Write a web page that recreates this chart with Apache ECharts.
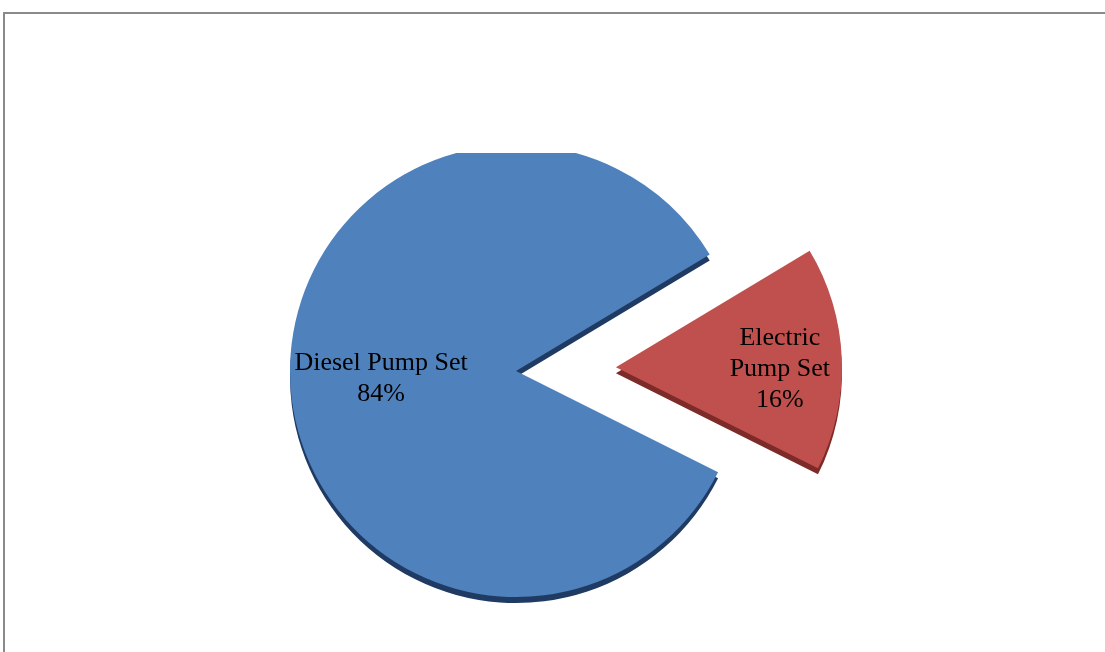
<!DOCTYPE html>
<html>
<head>
<meta charset="utf-8">
<script src="https://cdn.jsdelivr.net/npm/echarts@6/dist/echarts.min.js"></script>
<style>
  html, body { margin: 0; padding: 0; background: #ffffff; }
  #chart { width: 1105px; height: 652px; }
</style>
</head>
<body>
<div id="chart"></div>
<script>
// Share of pump sets by type
const categories = ['Electric Pump Set', 'Diesel Pump Set'];
const shares = [16, 84];
const labelLines = [['Electric', 'Pump Set'], ['Diesel Pump Set']];

const faceColors = ['#c0504d', '#4f81bd'];
const sideColors = ['#7d2b29', '#1f3b63'];

const center = [516, 371];
const radius = 226;
const depth = 6;

function labelStyle(i) {
  // the exploded slice carries its label further out along the radius
  return i === 0
    ? { padding: [0, 0, 0, 96] }
    : { offset: [-19, 3] };
}

function buildData(colors, withLabels) {
  return categories.map((name, i) => ({
    name: name,
    value: shares[i],
    selected: i === 0,
    itemStyle: { color: colors[i] },
    label: withLabels ? labelStyle(i) : { show: false }
  }));
}

const chart = echarts.init(document.getElementById('chart'), null, { renderer: 'canvas' });

chart.setOption({
  animation: false,
  backgroundColor: '#ffffff',
  graphic: [
    {
      type: 'rect',
      z: 100,
      shape: { x: 4, y: 13, width: 1120, height: 660 },
      style: { fill: 'none', stroke: '#8a8a8a', lineWidth: 2 }
    },
    {
      type: 'rect',
      z: 90,
      shape: { x: 270, y: 20, width: 460, height: 133 },
      style: { fill: '#ffffff' }
    }
  ],
  series: [
    {
      // side (thickness) of the pie, drawn slightly lower
      type: 'pie',
      silent: true,
      z: 1,
      center: [center[0], center[1] + depth],
      radius: [0, radius],
      startAngle: 31,
      clockwise: true,
      selectedMode: 'single',
      selectedOffset: 100,
      label: { show: false },
      labelLine: { show: false },
      data: buildData(sideColors, false)
    },
    {
      // top face with labels
      type: 'pie',
      z: 2,
      center: center,
      radius: [0, radius],
      startAngle: 31,
      clockwise: true,
      selectedMode: 'single',
      selectedOffset: 100,
      emphasis: { disabled: true },
      labelLine: { show: false },
      label: {
        show: true,
        position: 'inside',
        color: '#000000',
        fontFamily: 'Liberation Serif',
        fontSize: 26,
        lineHeight: 31,
        align: 'center',
        rich: {
          gap: { height: 13, lineHeight: 13, fontSize: 2 }
        },
        formatter: function (p) {
          const lines = labelLines[p.dataIndex].concat([p.value + '%']);
          // small spacer line keeps the exploded slice's label low in the wedge
          return (p.dataIndex === 0 ? '{gap| }\n' : '') + lines.join('\n');
        }
      },
      data: buildData(faceColors, true)
    }
  ]
});
</script>
</body>
</html>
